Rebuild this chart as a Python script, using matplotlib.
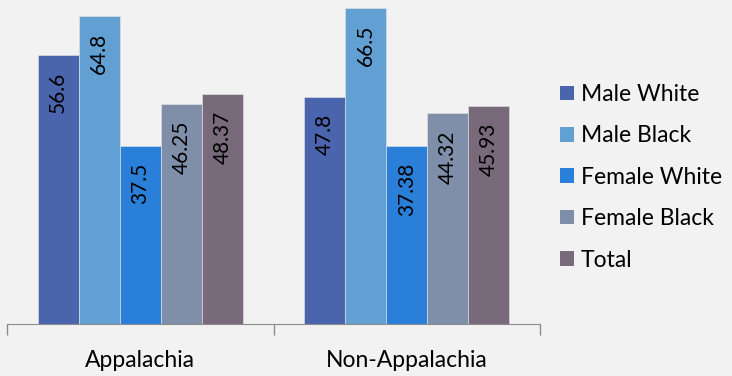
import numpy as np
import matplotlib
matplotlib.use('Agg')
import matplotlib.pyplot as plt
from matplotlib.patches import Patch

categories = ['Appalachia', 'Non-Appalachia']
series = ['Male White', 'Male Black', 'Female White', 'Female Black', 'Total']
values = {
    'Male White': [56.6, 47.8],
    'Male Black': [64.8, 66.5],
    'Female White': [37.5, 37.38],
    'Female Black': [46.25, 44.32],
    'Total': [48.37, 45.93],
}
labels = {
    'Male White': ['56.6', '47.8'],
    'Male Black': ['64.8', '66.5'],
    'Female White': ['37.5', '37.38'],
    'Female Black': ['46.25', '44.32'],
    'Total': ['48.37', '45.93'],
}
colors = ['#4a64ad', '#629fd3', '#2a7fd9', '#7f8fa9', '#786a7b']

plt.rcParams['font.family'] = ['Lato', 'DejaVu Sans']
bg = '#f2f2f2'

fig = plt.figure(figsize=(7.32, 3.76), dpi=100, facecolor=bg)
ax = fig.add_axes([7 / 732, 52 / 376, 533 / 732, 323 / 376])
ax.set_facecolor(bg)

x = np.arange(len(categories))
n = len(series)
group_w = 0.77
w = group_w / n

for i, name in enumerate(series):
    pos = x - group_w / 2 + w * (i + 0.5)
    bars = ax.bar(pos, values[name], width=w, color=colors[i],
                  edgecolor='#e8e8e8', linewidth=0.4, label=name)
    for b, txt in zip(bars, labels[name]):
        ax.annotate(txt, (b.get_x() + b.get_width() / 2, b.get_height()),
                    xytext=(0, -12), textcoords='offset points',
                    rotation=90, ha='center', va='top', fontsize=15,
                    color='black')

ax.set_xlim(-0.5, 1.5)
ax.set_ylim(0, 68)
ax.set_yticks([])
for s in ['top', 'right', 'left']:
    ax.spines[s].set_visible(False)
ax.spines['bottom'].set_color('#8c8c8c')
ax.set_xticks([-0.5, 0.5, 1.5], minor=False)
ax.set_xticklabels([])
ax.tick_params(axis='x', which='major', direction='out', length=8,
               color='#8c8c8c', width=1)
ax.set_xticks(x, minor=True)
ax.set_xticklabels(categories, minor=True, fontsize=16.5)
ax.tick_params(axis='x', which='minor', length=0, pad=19)

handles = [Patch(facecolor=c, label=s) for s, c in zip(series, colors)]
fig.legend(handles=handles, loc='upper left', bbox_to_anchor=(560 / 732, 1 - 84 / 376),
           frameon=False, fontsize=16.5, handlelength=0.61, handleheight=0.61,
           handletextpad=0.3, labelspacing=0.89, borderaxespad=0, borderpad=0)

fig.savefig('out.png', dpi=100, facecolor=bg)
